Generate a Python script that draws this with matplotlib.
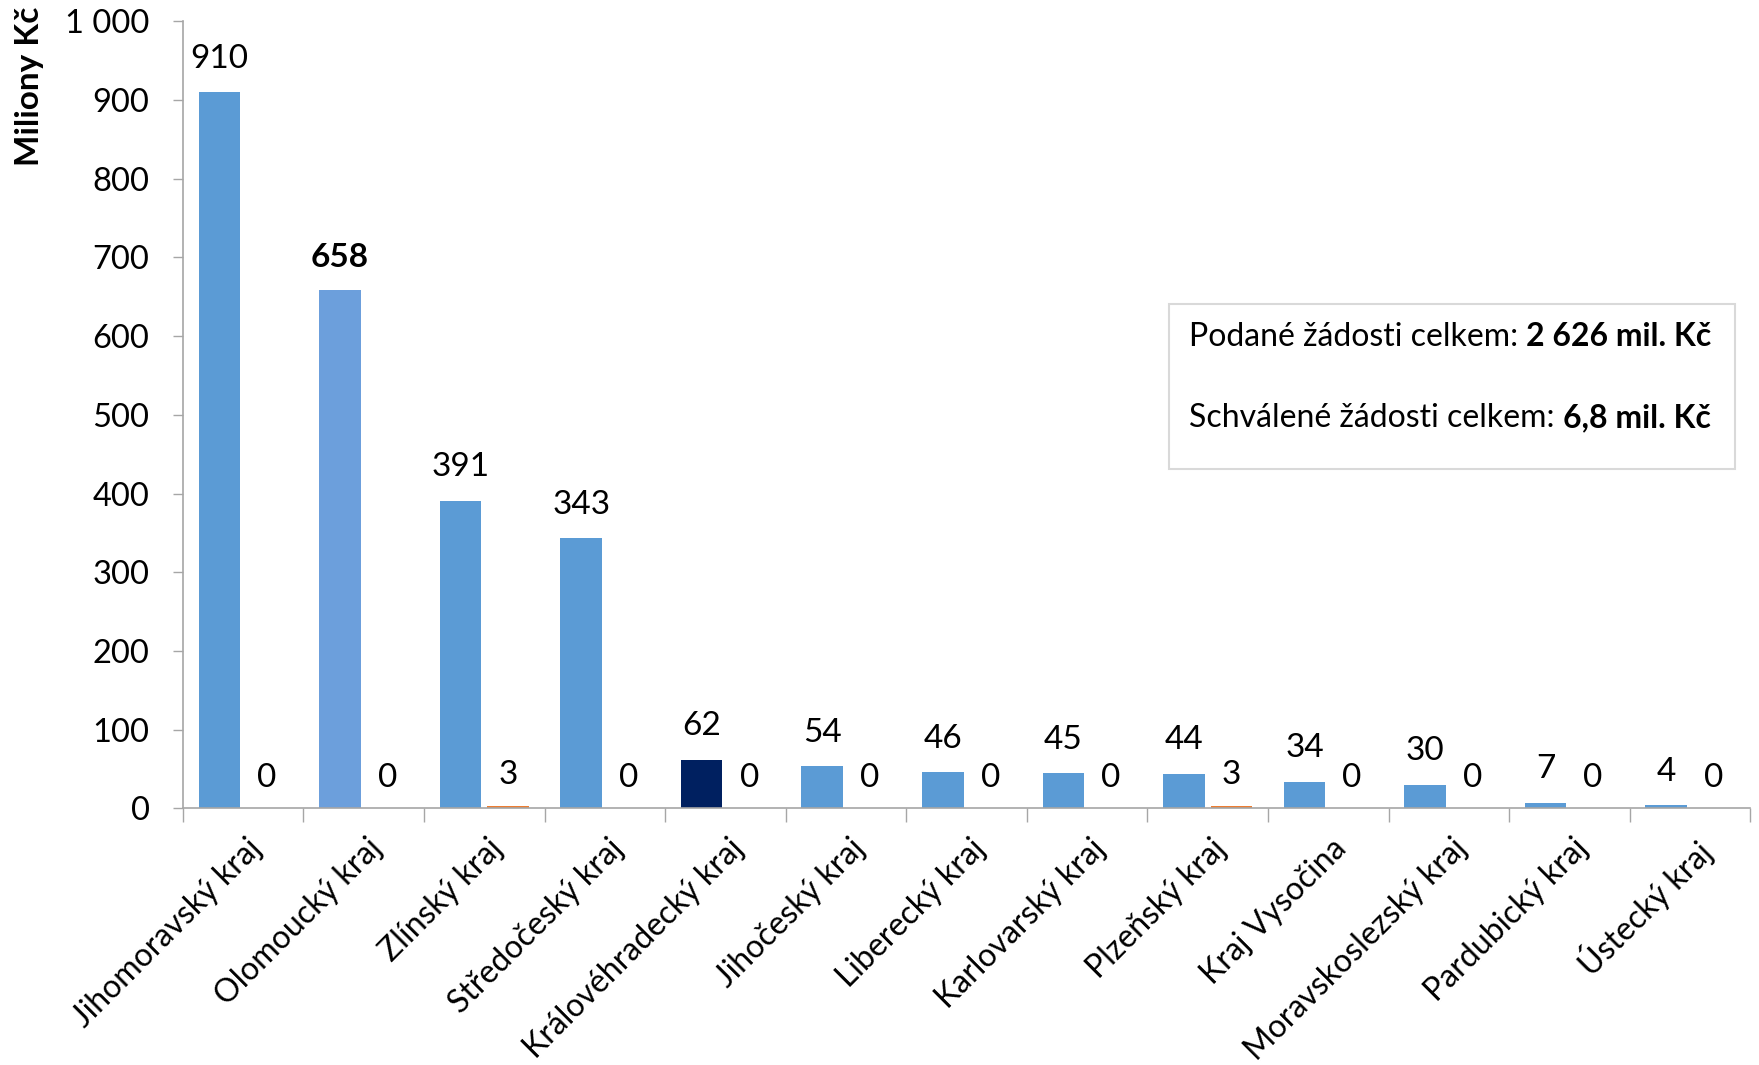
import matplotlib
matplotlib.use("Agg")
import matplotlib.pyplot as plt
from matplotlib.patches import Rectangle
from matplotlib.transforms import ScaledTranslation
import numpy as np

plt.rcParams['font.family'] = ['Lato', 'DejaVu Sans']

regions = ["Jihomoravský kraj", "Olomoucký kraj", "Zlínský kraj", "Středočeský kraj",
           "Královéhradecký kraj", "Jihočeský kraj", "Liberecký kraj", "Karlovarský kraj",
           "Plzeňský kraj", "Kraj Vysočina", "Moravskoslezský kraj", "Pardubický kraj",
           "Ústecký kraj"]
submitted = [910, 658, 391, 343, 62, 54, 46, 45, 44, 34, 30, 7, 4]
approved = [0.2, 0.0, 3.2, 0.0, 0.0, 0.0, 0.0, 0.0, 3.2, 0.0, 0.2, 0.0, 0.0]
yticks = [0, 100, 200, 300, 400, 500, 600, 700, 800, 900, 1000]
ytick_labels = ["0", "100", "200", "300", "400", "500", "600", "700", "800", "900", "1 000"]

blue = '#5B9BD5'
bar_colors = [blue] * len(regions)
bar_colors[1] = '#6C9FDC'
bar_colors[4] = '#002060'
orange = '#ED7D31'

fig = plt.figure(figsize=(17.59, 10.65), dpi=100)
ax = fig.add_axes([0.104, 0.241, 0.891, 0.739])

x = np.arange(len(regions))
w = 0.345
off = 0.197
ax.bar(x - off, submitted, width=w, color=bar_colors, edgecolor='none')
ax.bar(x + off, approved, width=w, color=orange, edgecolor='none')

fs = 24
for i, v in enumerate(submitted):
    ax.annotate(f"{v:.0f}", (x[i] - off, v), xytext=(0, 24), textcoords='offset points',
                ha='center', va='center', fontsize=fs,
                fontweight='bold' if i == 1 else 'normal')
for i, v in enumerate(approved):
    ax.annotate(f"{v:.0f}", (x[i] + off, v), xytext=(0, 22), textcoords='offset points',
                ha='center', va='center', fontsize=fs)

ax.set_xlim(-0.5, len(regions) - 0.5)
ax.set_ylim(0, 1000)
ax.set_yticks(yticks)
ax.set_yticklabels(ytick_labels, fontsize=23.5)
ax.tick_params(axis='y', length=7, width=1, color='#A6A6A6', pad=17)

ax.set_xticks(x)
ax.set_xticklabels(regions, rotation=45, ha='right', va='top', rotation_mode='anchor',
                   fontsize=23)
ax.tick_params(axis='x', which='major', length=0, pad=18)
shift = ScaledTranslation(3 / 100, 0, fig.dpi_scale_trans)
for lab in ax.get_xticklabels():
    lab.set_transform(lab.get_transform() + shift)
ax.set_xticks(np.arange(-0.5, len(regions), 1.0), minor=True)
ax.tick_params(axis='x', which='minor', length=10, width=1, color='#A6A6A6')

for s in ['top', 'right']:
    ax.spines[s].set_visible(False)
for s in ['left', 'bottom']:
    ax.spines[s].set_color('#A6A6A6')
    ax.spines[s].set_linewidth(1.2)

fig.text(0.017, 0.994, "Miliony Kč", rotation=90, ha='center', va='top',
         fontsize=24, fontweight='bold')

# info box
fig.patches.append(Rectangle((0.6646, 0.5596), 0.3218, 0.155, transform=fig.transFigure,
                             facecolor='white', edgecolor='#D9D9D9', linewidth=1.5))
bfs = 23
t1 = fig.text(0.676, 0.6836, "Podané žádosti celkem: ", ha='left', va='center', fontsize=bfs)
t2 = fig.text(0.676, 0.6075, "Schválené žádosti celkem: ", ha='left', va='center', fontsize=bfs)
fig.canvas.draw()
r = fig.canvas.get_renderer()
W = fig.bbox.width
b1 = t1.get_window_extent(r)
b2 = t2.get_window_extent(r)
fig.text(b1.x1 / W, 0.6836, "2 626 mil. Kč", ha='left', va='center', fontsize=bfs,
         fontweight='bold')
fig.text(b2.x1 / W, 0.6075, "6,8 mil. Kč", ha='left', va='center', fontsize=bfs,
         fontweight='bold')

fig.savefig("out.png", dpi=100)
